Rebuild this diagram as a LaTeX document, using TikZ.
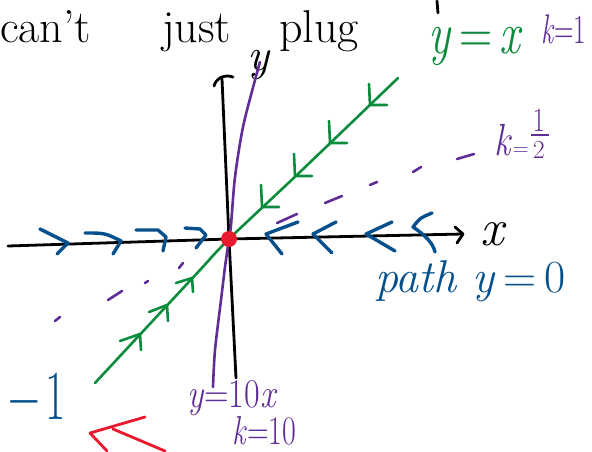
\documentclass[tikz,border=0pt]{standalone}
\definecolor{gr}{RGB}{10,140,60}
\definecolor{pu}{RGB}{95,45,150}
\definecolor{bl}{RGB}{5,80,140}
\definecolor{rd}{RGB}{235,25,45}
\tikzset{
  axisline/.style={black,line width=2.8pt,line cap=round,line join=round},
  gline/.style={gr,line width=2.6pt,line cap=round,line join=round},
  pline/.style={pu,line width=2.6pt,line cap=round,line join=round},
  bchev/.style={bl,line width=3.4pt,line cap=round,line join=round},
  rline/.style={rd,line width=2.8pt,line cap=round,line join=round},
  hand/.style={inner sep=0pt,anchor=base west},
}
\newcommand{\fs}[1]{\fontsize{#1}{#1}\selectfont}
\begin{document}
\begin{tikzpicture}[x=1pt,y=-1pt]
\useasboundingbox (0,0) rectangle (592,451);

% heading (cut at the top in the original)
\node[hand] (t1) at (0,42) {\fs{46}can't};
\node[hand] (t2) at (162,42) {\fs{46}just};
\node[hand] (t3) at (279,42) {\fs{46}plug};
\coordinate (m1) at (437,1);
\coordinate (m2) at (438,13);
\draw[axisline] (m1) -- (m2);

% axes
\coordinate (O) at (229,239);
\coordinate (xl) at (8,246);
\coordinate (xr) at (463,234);
\coordinate (yb) at (236,378);
\coordinate (yt) at (222,79);
\draw[axisline] (xl) -- (O) -- (xr);
\draw[axisline] (455,227) -- (xr) -- (457,243);
\draw[axisline] (yb) -- (O) -- (yt);
\draw[axisline] (214,86) .. controls (216,78) and (225,74) .. (233,77);
\node[hand] (xlab) at (480,245) {\fs{52}\textit{x}};
\node[hand] (ylab) at (247,70) {\fs{46}\textit{y}};

% k = 1/2 dashes
\draw[pline] (55,321) -- (60,317);
\draw[pline] (108,300) -- (122,291);
\draw[pline] (145,283) -- (148,281);
\draw[pline] (179,268) -- (183,263);
\draw[pline] (277,223) -- (297,214);
\draw[pline] (325,203) -- (342,196);
\draw[pline] (370,185) -- (377,182);
\draw[pline] (413,172) -- (421,167);
\draw[pline] (457,159) -- (474,154);

% green y = x
\draw[gline] plot[smooth] coordinates {(95,383) (160,313) (200,270) (229,239) (300,172) (398,78)};
\draw[gline] (369,84) -- (370,105) -- (387,105);
\draw[gline] (329,121) -- (330,143) -- (347,143);
\draw[gline] (294,154) -- (295,176) -- (312,176);
\draw[gline] (261,185) -- (262,207) -- (279,207);
\draw[gline] (120,341) -- (140,334) -- (141,350);
\draw[gline] (149,312) -- (167,305) -- (168,321);
\draw[gline] (176,283) -- (192,278) -- (193,292);

% blue path y = 0
\draw[bchev] (40,229) -- (68,243) -- (57,254);
\draw[bchev] (85,233) .. controls (105,233) .. (121,241) -- (113,254);
\draw[bchev] (136,230) -- (158,230) -- (166,237) -- (163,251);
\draw[bchev] (185,228) -- (200,229) -- (206,235) -- (196,248);
\draw[bchev] (298,222) -- (266,234) -- (282,254);
\draw[bchev] (336,222) -- (313,234) -- (332,253);
\draw[bchev] (392,222) -- (366,234) -- (395,251);
\draw[bchev] (432,213) .. controls (420,218) .. (413,227) .. controls (425,235) and (433,243) .. (435,252);

% purple y = 10x
\draw[pline] plot[smooth] coordinates {(260,62) (255,80) (243,127) (235,177) (231,225) (229,239) (225,267) (221,300) (215,350) (213,387)};

% origin
\node[circle,fill=rd,minimum size=16pt,inner sep=0pt] (dot) at (O) {};

% red arrow
\draw[rline] (145,417) -- (90,433) -- (107,451);
\draw[rline] (113,429) -- (165,451);

% labels
\node[hand,text=gr] (lyx) at (428,53) {\fs{46}\scalebox{1}[1.3]{\textit{y}\,=\,\textit{x}}};
\node[hand,text=pu] (lk1) at (541,43) {\fs{36}\scalebox{0.75}[1.15]{\textit{k}=1}};
\node[hand,text=pu] (lk2) at (494,155) {\fs{36}\scalebox{1}[1.25]{\textit{k}}\hspace{1pt}{\fs{22}=}\hspace{4pt}\raisebox{-3pt}{\fs{26}\rlap{\raisebox{27pt}{\scalebox{1}[1.3]{1}}}\rlap{\hspace{-2pt}\raisebox{22pt}{\rule{18pt}{2pt}}}2}};
\node[hand,text=bl] (lpath) at (375,292) {\fs{46}\textit{path y}\,=\,0};
\node[hand,text=pu] (l10) at (187,407) {\fs{34}\scalebox{1}[1.2]{\textit{y}=10\textit{x}}};
\node[hand,text=pu] (lk10) at (232,444) {\fs{30}\scalebox{1}[1.35]{\textit{k}=10}};
\node[hand,text=bl] (lm1) at (8,419) {\fs{44}\scalebox{1}[1.6]{−\hspace{6pt}1}};
\end{tikzpicture}
\end{document}
